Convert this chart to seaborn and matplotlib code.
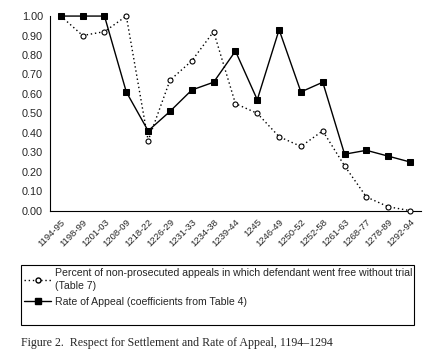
import matplotlib
matplotlib.use("Agg")
import matplotlib.pyplot as plt
import seaborn as sns
import pandas as pd
import numpy as np
from matplotlib.lines import Line2D
from matplotlib.patches import Rectangle

periods = ["1194-95", "1198-99", "1201-03", "1208-09", "1218-22", "1226-29", "1231-33",
           "1234-38", "1239-44", "1245", "1246-49", "1250-52", "1252-58", "1261-63",
           "1268-77", "1278-89", "1292-94"]
free_without_trial = [1.00, 0.90, 0.92, 1.00, 0.36, 0.67, 0.77, 0.92, 0.55, 0.50,
                      0.38, 0.33, 0.41, 0.23, 0.07, 0.02, 0.00]
rate_of_appeal = [1.00, 1.00, 1.00, 0.61, 0.41, 0.51, 0.62, 0.66, 0.82, 0.57,
                  0.93, 0.61, 0.66, 0.29, 0.31, 0.28, 0.25]

sns.set_style("white")
plt.rcParams['font.family'] = ['Liberation Sans', 'DejaVu Sans']

df = pd.DataFrame({"period": periods, "idx": np.arange(len(periods)),
                   "free": free_without_trial, "appeal": rate_of_appeal})

DOT = (0, (1, 2))

fig = plt.figure(figsize=(4.34, 3.57), dpi=100)
ax = fig.add_axes([0.115, 0.41, 0.855, 0.545])

sns.lineplot(data=df, x="idx", y="free", ax=ax, color="black", linestyle=DOT,
             linewidth=1.0, marker="o", markersize=3.6, markerfacecolor="white",
             markeredgecolor="black", markeredgewidth=0.8, clip_on=False, zorder=3)
sns.lineplot(data=df, x="idx", y="appeal", ax=ax, color="black", linestyle="-",
             linewidth=1.0, marker="s", markersize=3.8, markerfacecolor="black",
             markeredgecolor="black", clip_on=False, zorder=4)

ax.set_xlim(-0.5, len(periods) - 0.5)
ax.set_ylim(0, 1.0)
ax.set_yticks(np.arange(0, 1.01, 0.1))
ax.set_yticklabels([f"{v:.2f}" for v in np.arange(0, 1.01, 0.1)], fontsize=7.8)
ax.set_xticks(df["idx"])
ax.set_xticklabels(periods, rotation=45, ha="right", rotation_mode="anchor", fontsize=6.8)
ax.set_xticks(np.arange(-0.5, len(periods), 1.0), minor=True)
ax.tick_params(axis="x", which="major", length=0, pad=5)
ax.tick_params(axis="x", which="minor", length=3, direction="out", width=0.7)
ax.tick_params(axis="y", length=3, direction="out", width=0.7, pad=2)
ax.set_xlabel("")
ax.set_ylabel("")
for s in ["top", "right"]:
    ax.spines[s].set_visible(False)
for s in ["left", "bottom"]:
    ax.spines[s].set_color("black")
    ax.spines[s].set_linewidth(0.8)

handles = [
    Line2D([], [], color="black", linestyle=DOT, linewidth=1.0, marker="o",
           markersize=3.6, markerfacecolor="white", markeredgecolor="black"),
    Line2D([], [], color="black", linestyle="-", linewidth=1.0, marker="s",
           markersize=3.8, markerfacecolor="black"),
]
labels = ["Percent of non-prosecuted appeals in which defendant went free without trial\n(Table 7)",
          "Rate of Appeal (coefficients from Table 4)"]
leg = fig.legend(handles, labels, loc="upper left",
                 bbox_to_anchor=(0.048, 0.258), bbox_transform=fig.transFigure,
                 fontsize=7.6, frameon=False,
                 handlelength=2.6, borderpad=0.3, labelspacing=0.55, handletextpad=0.35,
                 borderaxespad=0.0)
for t in leg.get_texts():
    t.set_linespacing(1.35)

fig.add_artist(Rectangle((0.048, 0.09), 0.906, 0.168, transform=fig.transFigure,
                         fill=False, edgecolor="black", linewidth=0.8))

fig.text(0.048, 0.03, "Figure 2.  Respect for Settlement and Rate of Appeal, 1194\u20131294",
         fontsize=8.6, family=["Liberation Serif", "DejaVu Serif"])

fig.savefig("out.png", dpi=100)
